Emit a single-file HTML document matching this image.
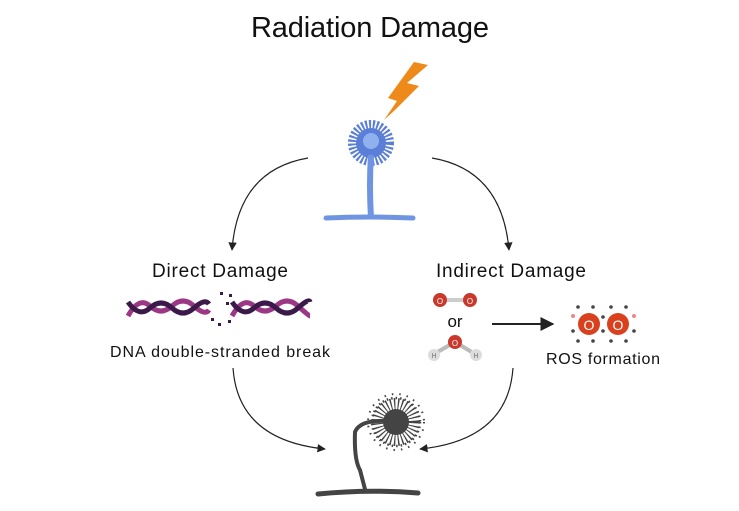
<!DOCTYPE html>
<html><head><meta charset="utf-8"><style>
html,body{margin:0;padding:0;background:#fff;}
svg{display:block;font-family:"Liberation Sans",sans-serif;}
</style></head><body>
<svg width="739" height="511" viewBox="0 0 739 511" xmlns="http://www.w3.org/2000/svg">
<defs>
<marker id="ah" viewBox="0 0 10 10" refX="9" refY="5" markerWidth="7" markerHeight="7" orient="auto-start-reverse">
<path d="M0,0 L10,5 L0,10 z" fill="#222"/></marker>
</defs>
<text x="370" y="37" font-size="29" text-anchor="middle" fill="#111" textLength="238">Radiation Damage</text>

<!-- lightning -->
<polygon points="414,62 428,65 407,83 419,86 395,110 384,120 397,101 388,98" fill="#ee8a1a"/>

<!-- top fungus -->
<circle cx="371" cy="143" r="18" fill="none" stroke="#5b7fd6" stroke-width="10" stroke-dasharray="2 1.6"/>
<circle cx="371" cy="143" r="15" fill="#5b7fd6"/>
<circle cx="371" cy="141" r="8" fill="#8fb2ef"/>
<path d="M371,155 Q369,185 371,218" stroke="#6f95e2" stroke-width="6" fill="none"/>
<path d="M326,218 Q370,216 413,218" stroke="#6f95e2" stroke-width="5" fill="none" stroke-linecap="round"/>

<!-- top arrows -->
<path d="M308,158 Q238,170 232,250" stroke="#222" stroke-width="1.2" fill="none" marker-end="url(#ah)"/>
<path d="M432,158 Q502,170 509,250" stroke="#222" stroke-width="1.2" fill="none" marker-end="url(#ah)"/>

<text x="220" y="277" font-size="19" text-anchor="middle" fill="#111" textLength="136">Direct Damage</text>
<text x="511" y="277" font-size="19" text-anchor="middle" fill="#111" textLength="150">Indirect Damage</text>

<!-- DNA -->
<g fill="none" stroke-width="5">
<path d="M128,316 Q139,296 150,306 T172,306 T194,306 T209,310" stroke="#9b3785"/>
<path d="M128,302 Q139,318 150,308 T172,308 T194,308 T209,304" stroke="#3b1a4a"/>
<path d="M232,316 Q243,296 254,306 T276,306 T298,306 T310,316" stroke="#9b3785"/>
<path d="M232,302 Q243,318 254,308 T276,308 T298,308 T310,302" stroke="#3b1a4a"/>
</g>
<g fill="#3b1a4a"><rect x="220" y="292" width="3" height="3"/><rect x="229" y="294" width="3" height="3"/><rect x="226" y="302" width="3" height="3"/><rect x="211" y="318" width="3" height="3"/><rect x="218" y="323" width="3" height="3"/><rect x="228" y="320" width="3" height="3"/></g>
<text x="220" y="357" font-size="16" text-anchor="middle" fill="#111" textLength="220">DNA double-stranded break</text>

<!-- molecules -->
<rect x="440" y="298" width="30" height="4" fill="#ccc"/>
<circle cx="440" cy="300" r="7" fill="#c8382b"/><circle cx="470" cy="300" r="7" fill="#c8382b"/>
<text x="440" y="304" font-size="8" text-anchor="middle" fill="#fff">O</text><text x="470" y="304" font-size="8" text-anchor="middle" fill="#fff">O</text>
<text x="455" y="327" font-size="17" text-anchor="middle" fill="#111">or</text>
<path d="M434,354 L455,342 L475,354" stroke="#bbb" stroke-width="4" fill="none"/>
<circle cx="434" cy="355" r="6" fill="#ddd"/><circle cx="476" cy="355" r="6" fill="#ddd"/>
<circle cx="455" cy="342" r="7" fill="#c8382b"/>
<text x="455" y="346" font-size="8" text-anchor="middle" fill="#fff">O</text>
<text x="434" y="358" font-size="7" text-anchor="middle" fill="#777">H</text><text x="476" y="358" font-size="7" text-anchor="middle" fill="#777">H</text>

<line x1="492" y1="324" x2="553" y2="324" stroke="#222" stroke-width="2" marker-end="url(#ah)"/>

<!-- ROS -->
<circle cx="589" cy="324" r="11" fill="#d9411e"/><circle cx="618" cy="324" r="11" fill="#d9411e"/>
<text x="589" y="330" font-size="14" text-anchor="middle" fill="#fff">O</text><text x="618" y="330" font-size="14" text-anchor="middle" fill="#fff">O</text>
<g fill="#444">
<circle cx="578" cy="307" r="1.8"/><circle cx="593" cy="307" r="1.8"/><circle cx="611" cy="307" r="1.8"/><circle cx="626" cy="307" r="1.8"/>
<circle cx="578" cy="341" r="1.8"/><circle cx="593" cy="341" r="1.8"/><circle cx="611" cy="341" r="1.8"/><circle cx="626" cy="341" r="1.8"/>
<circle cx="603" cy="317" r="1.8"/><circle cx="603" cy="331" r="1.8"/><circle cx="573" cy="331" r="1.8"/><circle cx="634" cy="331" r="1.8"/>
</g>
<circle cx="573" cy="316" r="2" fill="#e88"/><circle cx="634" cy="316" r="2" fill="#e88"/>
<text x="603" y="364" font-size="16" text-anchor="middle" fill="#111" textLength="114">ROS formation</text>

<!-- bottom arrows -->
<path d="M233,368 Q238,440 325,449" stroke="#222" stroke-width="1.2" fill="none" marker-end="url(#ah)"/>
<path d="M513,368 Q508,440 420,449" stroke="#222" stroke-width="1.2" fill="none" marker-end="url(#ah)"/>

<!-- bottom fungus -->
<circle cx="396" cy="422" r="17" fill="none" stroke="#444" stroke-width="14" stroke-dasharray="1.2 2.2"/>
<circle cx="396" cy="422" r="24" fill="none" stroke="#444" stroke-width="2.5" stroke-dasharray="1.5 3"/>
<circle cx="396" cy="422" r="28" fill="none" stroke="#444" stroke-width="2" stroke-dasharray="1.5 6"/>
<circle cx="396" cy="422" r="13" fill="#444"/>
<path d="M385,421 Q360,420 355,432 Q354,460 360,470 L366,493" stroke="#444" stroke-width="4" fill="none"/>
<path d="M318,494 Q368,489 418,493" stroke="#444" stroke-width="5" fill="none" stroke-linecap="round"/>
</svg>
</body></html>
